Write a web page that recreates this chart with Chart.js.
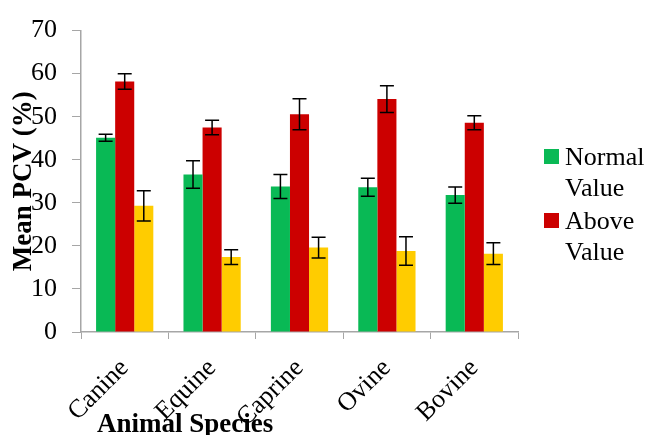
<!DOCTYPE html>
<html>
<head>
<meta charset="utf-8">
<script src="https://cdn.jsdelivr.net/npm/chart.js@4"></script>
<style>
  html, body { margin: 0; padding: 0; background: #fff; }
  #wrap { width: 651px; height: 435px; }
</style>
</head>
<body>
<div id="wrap"><canvas id="pcvChart" width="651" height="435"></canvas></div>
<script>
// animal species on the x axis
var species = ['Canine', 'Equine', 'Caprine', 'Ovine', 'Bovine'];

// mean PCV (%) per group
var normalValue = [45.1, 36.6, 33.8, 33.6, 31.8];
var aboveValue  = [58.2, 47.5, 50.6, 54.1, 48.6];
var belowValue  = [29.3, 17.4, 19.6, 18.8, 18.2];

// half length of the error bars
var normalErr = [0.8, 3.2, 2.8, 2.1, 1.9];
var aboveErr  = [1.8, 1.7, 3.6, 3.1, 1.6];
var belowErr  = [3.5, 1.7, 2.4, 3.3, 2.5];

var yTicks = [0, 10, 20, 30, 40, 50, 60, 70];

var serif = "'Liberation Serif', 'Times New Roman', serif";
var axisGrey = '#a6a6a6';

// draws the error bars through the y scale
var errorBars = {
	id: 'errorBars',
	afterDatasetsDraw: function (chart) {
		var ctx = chart.ctx;
		var yScale = chart.scales.y;
		ctx.save();
		ctx.strokeStyle = '#000';
		ctx.lineWidth = 1.5;
		chart.data.datasets.forEach(function (ds, i) {
			var meta = chart.getDatasetMeta(i);
			meta.data.forEach(function (bar, j) {
				var v = ds.data[j], e = ds.errors[j];
				var yTop = yScale.getPixelForValue(v + e);
				var yBot = yScale.getPixelForValue(v - e);
				ctx.beginPath();
				ctx.moveTo(bar.x, yTop); ctx.lineTo(bar.x, yBot);
				ctx.moveTo(bar.x - 7, yTop); ctx.lineTo(bar.x + 7, yTop);
				ctx.moveTo(bar.x - 7, yBot); ctx.lineTo(bar.x + 7, yBot);
				ctx.stroke();
			});
		});
		ctx.restore();
	}
};

// legend on the right (wrapped in two lines, like the original) and the x title
var sideText = {
	id: 'sideText',
	afterDraw: function (chart) {
		var ctx = chart.ctx;
		var area = chart.chartArea;
		ctx.save();
		ctx.textBaseline = 'alphabetic';
		ctx.textAlign = 'left';
		ctx.font = '26px ' + serif;
		var lx = area.right + 26, ly = 149;
		chart.data.datasets.slice(0, 2).forEach(function (ds, i) {
			var top = ly + i * 64;
			ctx.fillStyle = ds.backgroundColor;
			ctx.fillRect(lx, top, 15, 15);
			ctx.fillStyle = '#000';
			var words = ds.label.split(' ');
			ctx.fillText(words[0], lx + 21, top + 16);
			ctx.fillText(words[1], lx + 21, top + 47);
		});
		ctx.font = 'bold 27px ' + serif;
		ctx.fillText('Animal Species', area.left + 16, 432);
		ctx.restore();
	}
};

var ctx = document.getElementById('pcvChart').getContext('2d');
var myBar = new Chart(ctx, {
	type: 'bar',
	data: {
		labels: species,
		datasets: [
			{ label: 'Normal Value', data: normalValue, errors: normalErr, backgroundColor: '#09b955' },
			{ label: 'Above Value', data: aboveValue, errors: aboveErr, backgroundColor: '#cc0000' },
			{ label: 'Below Value', data: belowValue, errors: belowErr, backgroundColor: '#ffcc00' }
		]
	},
	options: {
		responsive: false,
		animation: false,
		devicePixelRatio: 1,
		layout: { padding: { top: 23, right: 133, left: 0, bottom: 0 } },
		datasets: { bar: { categoryPercentage: 0.655, barPercentage: 1.0 } },
		plugins: {
			legend: { display: false },
			tooltip: { enabled: false }
		},
		scales: {
			x: {
				grid: { display: true, drawOnChartArea: false, color: axisGrey, tickLength: 7, offset: true },
				border: { color: axisGrey, width: 1.5 },
				ticks: {
					color: '#000',
					font: { family: serif, size: 26 },
					minRotation: 45, maxRotation: 45,
					padding: 14
				},
				afterFit: function (scale) { scale.height = 103; }
			},
			y: {
				min: 0, max: 70,
				afterBuildTicks: function (scale) {
					scale.ticks = yTicks.map(function (v) { return { value: v }; });
				},
				grid: { display: true, drawOnChartArea: false, color: axisGrey, tickLength: 9 },
				border: { color: axisGrey, width: 1.5 },
				ticks: {
					color: '#000',
					font: { family: serif, size: 26 },
					padding: 15
				},
				title: {
					display: true,
					text: 'Mean PCV (%)',
					color: '#000',
					font: { family: serif, size: 27, weight: 'bold', lineHeight: 1.0 },
					padding: { top: 11, bottom: 0 }
				},
				afterFit: function (scale) { scale.width = 81; }
			}
		}
	},
	plugins: [errorBars, sideText]
});
</script>
</body>
</html>
